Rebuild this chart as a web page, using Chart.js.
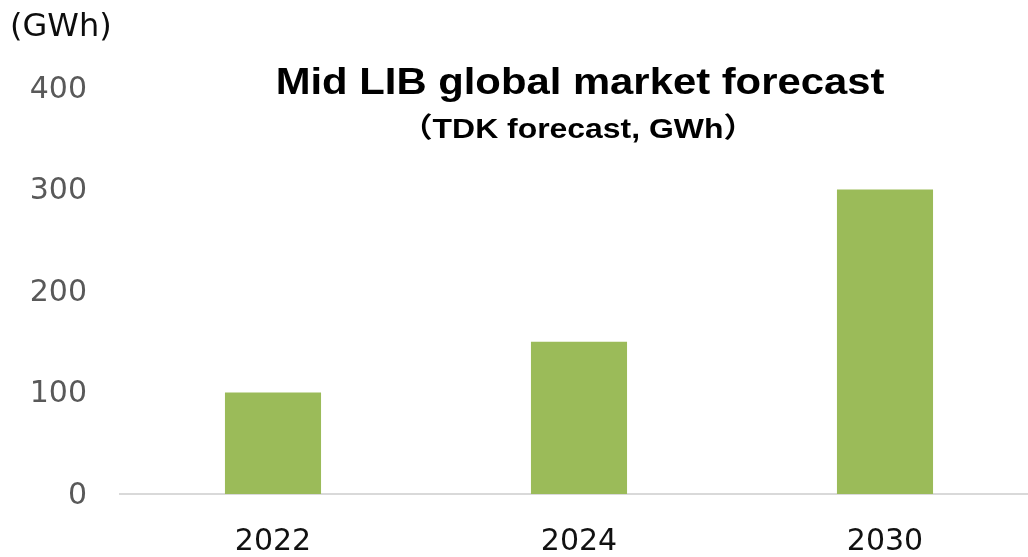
<!DOCTYPE html>
<html>
<head>
<meta charset="utf-8">
<script src="https://cdn.jsdelivr.net/npm/chart.js@4"></script>
<style>
  html, body { margin: 0; padding: 0; background: #fff; overflow: hidden; }
  canvas { display: block; }
</style>
</head>
<body>
<canvas id="libChart" width="1038" height="557"></canvas>
<script>
// market size per year (GWh)
const years = ["2022", "2024", "2030"];
const marketGWh = [100, 150, 300];
const yTicks = [0, 100, 200, 300, 400];

const titleText = "Mid LIB global market forecast";
const subtitleText = "（TDK forecast, GWh）";
const unitText = "(GWh)";

// titles are drawn by hand so they can be widened a bit like the slide font
const headerText = {
  id: "headerText",
  afterDraw(chart) {
    const ctx = chart.ctx;
    ctx.save();
    ctx.fillStyle = "#000";
    ctx.textBaseline = "alphabetic";

    ctx.textAlign = "center";
    ctx.save();
    ctx.translate(580, 94);
    ctx.scale(1.13, 1);
    ctx.font = "bold 37px 'Liberation Sans', Arial, sans-serif";
    ctx.fillText(titleText, 0, 0);
    ctx.restore();

    ctx.save();
    ctx.translate(578, 138);
    ctx.scale(1.14, 1);
    ctx.font = "bold 28px 'Liberation Sans', 'Noto Sans CJK JP', sans-serif";
    ctx.fillText(subtitleText, 0, 0);
    ctx.restore();

    ctx.textAlign = "left";
    ctx.fillStyle = "#0d0d0d";
    ctx.font = "32px 'DejaVu Sans', sans-serif";
    ctx.fillText(unitText, 10, 36);
    ctx.restore();
  }
};

const ctx = document.getElementById("libChart").getContext("2d");
new Chart(ctx, {
  type: "bar",
  data: {
    labels: years,
    datasets: [
      {
        label: "Mid LIB",
        data: marketGWh,
        backgroundColor: "#9bbb59",
        borderWidth: 0,
        categoryPercentage: 1,
        barPercentage: 0.314,
      },
    ],
  },
  options: {
    responsive: false,
    animation: false,
    layout: {
      padding: { top: 88, left: 0, right: 0, bottom: 0 },
    },
    plugins: {
      legend: { display: false },
      title: { display: false },
      tooltip: { enabled: false },
    },
    scales: {
      x: {
        grid: { display: false, drawTicks: false },
        border: { display: true, color: "#d9d9d9", width: 2 },
        ticks: {
          color: "#111",
          padding: 30,
          font: { family: "'DejaVu Sans', sans-serif", size: 30 },
        },
        afterFit(scale) {
          scale.height = 63;
        },
      },
      y: {
        min: 0,
        max: 400,
        afterBuildTicks(scale) {
          scale.ticks = yTicks.map((v) => ({ value: v }));
        },
        grid: { display: false, drawTicks: false },
        border: { display: false },
        ticks: {
          color: "#595959",
          padding: 33,
          labelOffset: 2,
          font: { family: "'DejaVu Sans', sans-serif", size: 30 },
        },
        afterFit(scale) {
          scale.width = 120;
        },
      },
    },
  },
  plugins: [headerText],
});
</script>
</body>
</html>
